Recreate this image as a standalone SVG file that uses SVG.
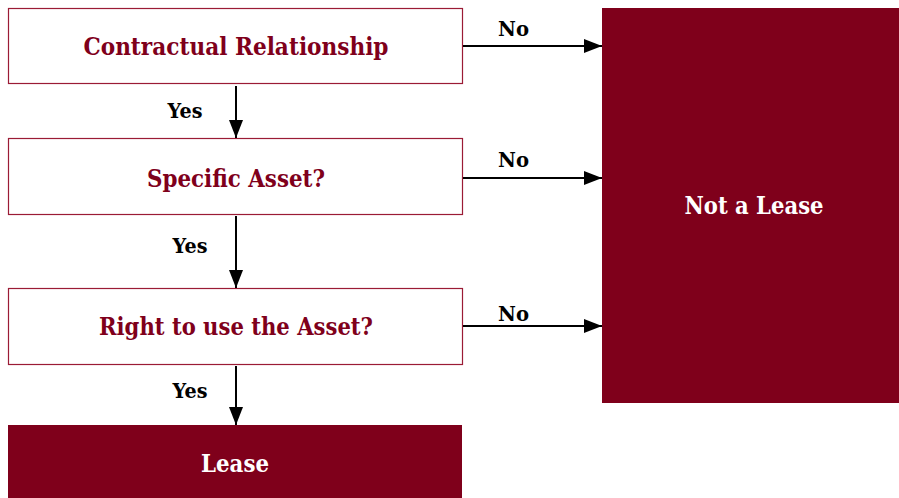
<svg xmlns="http://www.w3.org/2000/svg" width="899" height="498" viewBox="0 0 899 498">
<defs>
<marker id="ah" markerWidth="18" markerHeight="14" refX="18" refY="7" orient="auto" markerUnits="userSpaceOnUse">
<path d="M0,0 L18,7 L0,14 Z" fill="#000"/>
</marker>
<style>
.box{fill:#fff;stroke:#9b1b35;stroke-width:1.2}
.dark{fill:#7f001b}
.t{font-family:"DejaVu Serif","Liberation Serif",serif;font-weight:bold;text-anchor:middle}
.q{fill:#7f001b;font-size:24px}
.w{fill:#fff;font-size:24px}
.l{fill:#000;font-size:21px}
.c{stroke:#000;stroke-width:2;fill:none}
</style>
</defs>
<rect width="899" height="498" fill="#fff"/>
<g id="n1"><rect class="box" x="8.5" y="8.5" width="454" height="75"/><text class="t q" x="236" y="55" textLength="305" lengthAdjust="spacingAndGlyphs">Contractual Relationship</text></g>
<g id="n2"><rect class="box" x="8.5" y="138.5" width="454" height="76"/><text class="t q" x="236" y="187" textLength="178" lengthAdjust="spacingAndGlyphs">Specific Asset?</text></g>
<g id="n3"><rect class="box" x="8.5" y="288.5" width="454" height="76"/><text class="t q" x="236" y="335" textLength="274" lengthAdjust="spacingAndGlyphs">Right to use the Asset?</text></g>
<g id="n4"><rect class="dark" x="8" y="425" width="454" height="73"/><text class="t w" x="235" y="472" textLength="68" lengthAdjust="spacingAndGlyphs">Lease</text></g>
<g id="n5"><rect class="dark" x="602" y="8" width="297" height="395"/><text class="t w" x="754" y="214" textLength="139" lengthAdjust="spacingAndGlyphs">Not a Lease</text></g>
<g id="connectors">
<line class="c" x1="463" y1="46" x2="602" y2="46" marker-end="url(#ah)"/>
<line class="c" x1="463" y1="178" x2="602" y2="178" marker-end="url(#ah)"/>
<line class="c" x1="463" y1="326" x2="602" y2="326" marker-end="url(#ah)"/>
<line class="c" x1="236" y1="86" x2="236" y2="138" marker-end="url(#ah)"/>
<line class="c" x1="236" y1="216" x2="236" y2="288" marker-end="url(#ah)"/>
<line class="c" x1="236" y1="366" x2="236" y2="425" marker-end="url(#ah)"/>
<text class="t l" x="513.5" y="36" textLength="31" lengthAdjust="spacingAndGlyphs">No</text>
<text class="t l" x="513.5" y="167" textLength="31" lengthAdjust="spacingAndGlyphs">No</text>
<text class="t l" x="513.5" y="321" textLength="31" lengthAdjust="spacingAndGlyphs">No</text>
<text class="t l" x="185" y="118" textLength="35" lengthAdjust="spacingAndGlyphs">Yes</text>
<text class="t l" x="190" y="253" textLength="35" lengthAdjust="spacingAndGlyphs">Yes</text>
<text class="t l" x="190" y="398" textLength="35" lengthAdjust="spacingAndGlyphs">Yes</text>
</g>
</svg>
